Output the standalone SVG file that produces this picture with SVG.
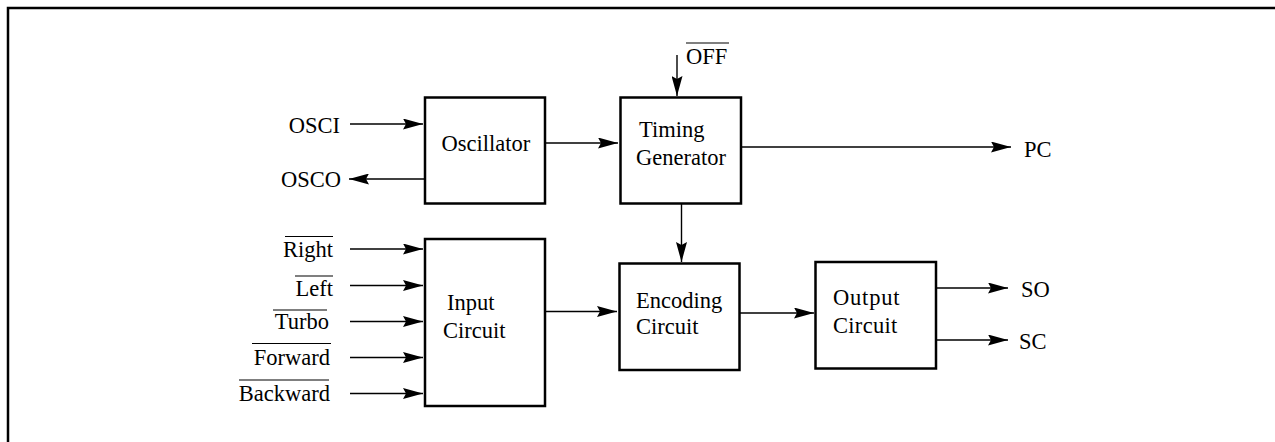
<svg xmlns="http://www.w3.org/2000/svg" width="1275" height="442" viewBox="0 0 1275 442">
<style>
.box{fill:#fff;stroke:#000;stroke-width:2.5}
.wire{stroke:#000;stroke-width:1.4;fill:none}
.ov{stroke:#000;stroke-width:1.2}
text{font-family:"Liberation Serif","Times New Roman",serif;font-size:22.5px;fill:#000}
.r{text-anchor:end}
</style>
<defs>
<marker id="ah" viewBox="0 0 20 11" refX="20" refY="5.5" markerWidth="20" markerHeight="11" markerUnits="userSpaceOnUse" orient="auto">
<path d="M0,0 L20,5.5 L0,11 L3,5.5 Z" fill="#000"/>
</marker>
</defs>
<rect x="8" y="8" width="1300" height="470" fill="#fff" stroke="#000" stroke-width="2.5"/>
<g id="connectors">
<line class="wire" x1="350" y1="124" x2="423" y2="124" marker-end="url(#ah)"/>
<line class="wire" x1="424" y1="179" x2="349" y2="179" marker-end="url(#ah)"/>
<line class="wire" x1="545" y1="143" x2="618" y2="143" marker-end="url(#ah)"/>
<line class="wire" x1="677" y1="55" x2="677" y2="96" marker-end="url(#ah)"/>
<line class="wire" x1="741" y1="147" x2="1011" y2="147" marker-end="url(#ah)"/>
<line class="wire" x1="681.5" y1="203" x2="681.5" y2="262" marker-end="url(#ah)"/>
<line class="wire" x1="545" y1="311.5" x2="617" y2="311.5" marker-end="url(#ah)"/>
<line class="wire" x1="740" y1="313" x2="814" y2="313" marker-end="url(#ah)"/>
<line class="wire" x1="936" y1="288" x2="1008" y2="288" marker-end="url(#ah)"/>
<line class="wire" x1="936" y1="340" x2="1008" y2="340" marker-end="url(#ah)"/>
<line class="wire" x1="350" y1="249" x2="423" y2="249" marker-end="url(#ah)"/>
<line class="wire" x1="350" y1="285.5" x2="423" y2="285.5" marker-end="url(#ah)"/>
<line class="wire" x1="350" y1="321.5" x2="423" y2="321.5" marker-end="url(#ah)"/>
<line class="wire" x1="350" y1="357.5" x2="423" y2="357.5" marker-end="url(#ah)"/>
<line class="wire" x1="350" y1="393.5" x2="423" y2="393.5" marker-end="url(#ah)"/>
</g>
<g id="oscillator">
<rect class="box" x="425" y="97.5" width="120" height="106"/>
<text x="441.5" y="150.5">Oscillator</text>
</g>
<g id="timing">
<rect class="box" x="620.5" y="97.5" width="120.5" height="106"/>
<text x="639" y="136.5">Timing</text>
<text x="636" y="165">Generator</text>
</g>
<g id="input">
<rect class="box" x="425" y="239" width="120" height="167"/>
<text x="447" y="310">Input</text>
<text x="443" y="338">Circuit</text>
</g>
<g id="encoding">
<rect class="box" x="619.5" y="263.5" width="120" height="106.5"/>
<text x="636" y="307.5">Encoding</text>
<text x="636" y="334">Circuit</text>
</g>
<g id="output">
<rect class="box" x="815.5" y="262" width="120.5" height="106.5"/>
<text x="833" y="305" letter-spacing="0.8">Output</text>
<text x="833" y="333" letter-spacing="0.3">Circuit</text>
</g>
<g id="labels">
<text class="r" x="340" y="133">OSCI</text>
<text class="r" x="341" y="187">OSCO</text>
<text x="686" y="64">OFF</text>
<line class="ov" x1="686" y1="43" x2="729" y2="43"/>
<text x="1024" y="157">PC</text>
<text x="1021" y="297">SO</text>
<text x="1019" y="349">SC</text>
<text class="r" x="333" y="257">Right</text>
<line class="ov" x1="285" y1="236.5" x2="333" y2="236.5"/>
<text class="r" x="333" y="296">Left</text>
<line class="ov" x1="295" y1="276" x2="333" y2="276"/>
<text class="r" x="329" y="329">Turbo</text>
<line class="ov" x1="273" y1="310" x2="327" y2="310"/>
<text class="r" x="330" y="364.5">Forward</text>
<line class="ov" x1="252" y1="343.5" x2="331" y2="343.5"/>
<text class="r" x="330" y="401">Backward</text>
<line class="ov" x1="239" y1="380" x2="329" y2="380"/>
</g>
</svg>
